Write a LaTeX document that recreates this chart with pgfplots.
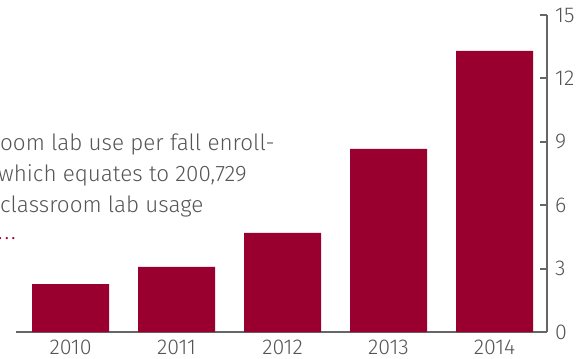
\documentclass[border=0pt]{standalone}
\usepackage{fontspec}
\setmainfont{Fira Sans Light}
\usepackage{pgfplots}
\pgfplotsset{compat=1.18}
\definecolor{barred}{HTML}{990030}
\definecolor{axisgray}{HTML}{666666}
\definecolor{txt}{HTML}{555555}
\begin{document}
\begin{tikzpicture}[x=1bp,y=1bp]
\path[use as bounding box] (0,0) rectangle (584,358);
\begin{axis}[
  at={(16bp,26bp)}, anchor=south west,
  scale only axis, width=531bp, height=317bp,
  xmin=-0.515, xmax=4.495, ymin=0, ymax=15,
  axis x line*=bottom, axis y line*=right,
  axis line style={draw=axisgray, line width=2bp},
  xtick={0,1,2,3,4}, xticklabels={2010,2011,2012,2013,2014},
  ytick={0,3,6,9,12,15},
  major x tick style={draw=none},
  ytick align=inside,
  major tick length=7bp,
  major y tick style={draw=axisgray, line width=2bp},
  tick label style={font=\fontsize{21.5}{26}\selectfont, text=txt},
  yticklabel style={anchor=west, inner sep=0pt, xshift=8bp},
  xticklabel style={anchor=north, inner sep=0pt, text depth=0pt, yshift=-1bp},
  /pgf/number format/assume math mode=true,
  ybar, bar width=77bp,
]
\addplot[fill=barred, draw=none] coordinates {(0,2.27) (1,3.08) (2,4.69) (3,8.66) (4,13.3)};
\end{axis}
\begin{scope}[every node/.style={anchor=base west, inner sep=0pt, text=txt, font=\fontsize{22.5}{28}\selectfont}]
\node at (0,208) {oom lab use per fall enroll-};
\node at (-2,177) {which equates to 200,729};
\node at (0,146) {classroom lab usage};
\node[text=barred, font=\fontsize{13}{15}\selectfont\bfseries] at (-1.5,118.5) {.\hspace{3.5bp}.\hspace{3.5bp}.};
\end{scope}
\end{tikzpicture}
\end{document}
